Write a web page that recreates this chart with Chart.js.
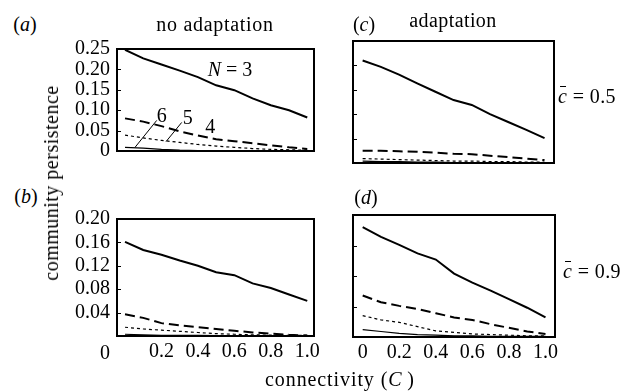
<!DOCTYPE html>
<html>
<head>
<meta charset="utf-8">
<script src="https://cdn.jsdelivr.net/npm/chart.js@4.4.1/dist/chart.umd.min.js"></script>
<style>
  body { margin: 0; background: #fff; }
  #fig { position: relative; width: 636px; height: 392px; overflow: hidden; font-family: "Liberation Serif", "Times New Roman", "DejaVu Serif", serif; color: #000; }
  #fig canvas { position: absolute; }
  .lbl { position: absolute; font-size: 20px; line-height: 1; white-space: nowrap; transform: translate(-50%, -50%); }
  .cbar { font-style: italic; position: relative; }
  .cbar::before { content: ""; position: absolute; left: 2px; width: 6px; top: 1px; border-top: 1px solid #000; }
</style>
</head>
<body>
<div id="fig">
  <canvas id="chartA" width="290" height="140" style="left:40px;top:30px"></canvas>
  <canvas id="chartB" width="290" height="192" style="left:40px;top:200px"></canvas>
  <canvas id="chartC" width="250" height="140" style="left:330px;top:30px"></canvas>
  <canvas id="chartD" width="250" height="192" style="left:330px;top:200px"></canvas>

  <div class="lbl" style="left:25px;top:24px">(<i>a</i>)</div>
  <div class="lbl" style="left:215px;top:24px;letter-spacing:0.7px">no adaptation</div>
  <div class="lbl" style="left:364px;top:24px">(<i>c</i>)</div>
  <div class="lbl" style="left:453px;top:20px;letter-spacing:0.4px">adaptation</div>
  <div class="lbl" style="left:587px;top:96px;letter-spacing:0.4px"><span class="cbar">c</span> = 0.5</div>
  <div class="lbl" style="left:26px;top:196px">(<i>b</i>)</div>
  <div class="lbl" style="left:366px;top:197px">(<i>d</i>)</div>
  <div class="lbl" style="left:592px;top:271px;letter-spacing:0.4px"><span class="cbar">c</span> = 0.9</div>
  <div class="lbl" style="left:105px;top:352px">0</div>
  <div class="lbl" style="left:51px;top:183px;letter-spacing:0.5px;transform:translate(-50%,-50%) rotate(-90deg)">community persistence</div>
  <div class="lbl" style="left:340px;top:379px;letter-spacing:0.9px">connectivity (<i>C</i>&thinsp;)</div>
</div>

<script>
// connectivity values (x) shared by all panels
const connectivity = [0, 0.1, 0.2, 0.3, 0.4, 0.5, 0.6, 0.7, 0.8, 0.9, 1.0];
const seriesNames = ['N = 3', 'N = 4', 'N = 5', 'N = 6'];

// (a) no adaptation, c = 0.5
const noAdapt05N3 = [0.248, 0.227, 0.212, 0.197, 0.181, 0.161, 0.149, 0.129, 0.112, 0.100, 0.082];
const noAdapt05N4 = [0.080, 0.072, 0.061, 0.048, 0.038, 0.029, 0.024, 0.019, 0.014, 0.009, 0.005];
const noAdapt05N5 = [0.039, 0.032, 0.026, 0.021, 0.016, 0.012, 0.009, 0.006, 0.004, 0.003, 0.002];
const noAdapt05N6 = [0.009, 0.007, 0.004, 0.002, 0.001, 0.001, 0.001, 0, 0, 0, 0];

// (c) adaptation, c = 0.5
const adapt05N3 = [0.210, 0.197, 0.181, 0.163, 0.146, 0.129, 0.119, 0.100, 0.084, 0.068, 0.051];
const adapt05N4 = [0.025, 0.025, 0.024, 0.023, 0.021, 0.019, 0.018, 0.015, 0.012, 0.009, 0.006];
const adapt05N5 = [0.009, 0.008, 0.007, 0.006, 0.005, 0.004, 0.004, 0.003, 0.003, 0.002, 0.002];
const adapt05N6 = [0.004, 0.003, 0.003, 0.002, 0.002, 0.001, 0.001, 0.001, 0.001, 0.001, 0.001];

// (b) no adaptation, c = 0.9
const noAdapt09N3 = [0.161, 0.147, 0.139, 0.129, 0.120, 0.109, 0.104, 0.090, 0.082, 0.071, 0.060];
const noAdapt09N4 = [0.037, 0.031, 0.022, 0.018, 0.015, 0.012, 0.009, 0.006, 0.004, 0.002, 0.001];
const noAdapt09N5 = [0.015, 0.012, 0.010, 0.008, 0.006, 0.004, 0.003, 0.002, 0.0015, 0.001, 0.001];
const noAdapt09N6 = [0.003, 0.002, 0.001, 0.001, 0.001, 0.0005, 0, 0, 0, 0, 0];

// (d) adaptation, c = 0.9
const adapt09N3 = [0.180, 0.164, 0.151, 0.137, 0.127, 0.104, 0.089, 0.076, 0.062, 0.048, 0.032];
const adapt09N4 = [0.068, 0.057, 0.051, 0.046, 0.039, 0.032, 0.028, 0.021, 0.015, 0.009, 0.005];
const adapt09N5 = [0.035, 0.028, 0.024, 0.017, 0.010, 0.0075, 0.005, 0.004, 0.003, 0.002, 0.002];
const adapt09N6 = [0.012, 0.009, 0.006, 0.004, 0.003, 0.002, 0.002, 0.001, 0.001, 0.001, 0.001];

// tick labels
const yLabelsTop = [0, 0.05, 0.10, 0.15, 0.20, 0.25];
const yLabelsBottom = [0.04, 0.08, 0.12, 0.16, 0.20];
const yMarksTop = [0.05, 0.10, 0.15, 0.20];
const yMarksB = [0.04, 0.08, 0.12, 0.16];
const yMarksD = [0.05, 0.10, 0.15];
const xLabelsB = [0.2, 0.4, 0.6, 0.8, 1.0];
const xLabelsD = [0, 0.2, 0.4, 0.6, 0.8, 1.0];

const FONT = "'Liberation Serif', 'Times New Roman', 'DejaVu Serif', serif";

const styles = [
    { borderWidth: 2, borderDash: [] },
    { borderWidth: 2, borderDash: [10, 5] },
    { borderWidth: 1.2, borderDash: [3, 3] },
    { borderWidth: 1.2, borderDash: [] }
];

// frame, inward ticks, labels and leader lines
const framePlugin = {
    id: 'frame',
    afterDraw(chart, args, opts) {
        const ctx = chart.ctx;
        const a = chart.chartArea;
        const x = chart.scales.x, y = chart.scales.y;
        ctx.save();
        ctx.strokeStyle = '#000';
        ctx.lineWidth = 1;
        (opts.yMarks || []).forEach(v => {
            const py = Math.round(y.getPixelForValue(v)) + 0.5;
            ctx.beginPath();
            ctx.moveTo(a.left, py);
            ctx.lineTo(a.left + 4, py);
            ctx.stroke();
        });
        (opts.leaders || []).forEach(l => {
            ctx.beginPath();
            ctx.moveTo(x.getPixelForValue(l[0]), y.getPixelForValue(l[1]));
            ctx.lineTo(x.getPixelForValue(l[2]), y.getPixelForValue(l[3]));
            ctx.stroke();
        });
        ctx.fillStyle = '#000';
        ctx.textBaseline = 'middle';
        ctx.textAlign = 'left';
        (opts.notes || []).forEach(n => {
            let w = 0;
            n.parts.forEach(p => {
                ctx.font = (p[1] ? 'italic ' : '') + '20px ' + FONT;
                w += ctx.measureText(p[0]).width;
            });
            let px = x.getPixelForValue(n.x) - w / 2;
            const py = y.getPixelForValue(n.y);
            n.parts.forEach(p => {
                ctx.font = (p[1] ? 'italic ' : '') + '20px ' + FONT;
                ctx.fillText(p[0], px, py);
                px += ctx.measureText(p[0]).width;
            });
        });
        ctx.lineWidth = 2;
        ctx.strokeRect(a.left, a.top, a.right - a.left, a.bottom - a.top);
        ctx.restore();
    }
};

function panel(id, series, o) {
    return new Chart(document.getElementById(id), {
        type: 'line',
        data: {
            datasets: series.map((s, i) => ({
                label: seriesNames[i],
                data: connectivity.map((c, k) => ({ x: c, y: s[k] })),
                borderColor: '#000',
                borderWidth: styles[i].borderWidth,
                borderDash: styles[i].borderDash,
                pointRadius: 0,
                fill: false,
                tension: 0
            }))
        },
        options: {
            responsive: false,
            animation: false,
            devicePixelRatio: 1,
            layout: { padding: o.padding },
            plugins: {
                legend: { display: false },
                tooltip: { enabled: false },
                frame: { yMarks: o.yMarks, notes: o.notes, leaders: o.leaders }
            },
            scales: {
                x: {
                    type: 'linear',
                    min: o.xMin,
                    max: o.xMax,
                    display: !!o.xLabels,
                    grid: { display: false, drawTicks: false },
                    border: { display: false },
                    afterBuildTicks: s => { if (o.xLabels) s.ticks = o.xLabels.map(v => ({ value: v })); },
                    afterFit: s => { if (o.xLabels) s.height = 40; },
                    ticks: {
                        autoSkip: false, maxRotation: 0, padding: 4, color: '#000',
                        font: { family: FONT, size: 20 },
                        callback: v => v === 0 ? '0' : v.toFixed(1)
                    }
                },
                y: {
                    type: 'linear',
                    min: 0,
                    max: o.yMax,
                    display: !!o.yLabels,
                    grid: { display: false, drawTicks: false },
                    border: { display: false },
                    afterBuildTicks: s => { s.ticks = (o.yLabels || o.yMarks).map(v => ({ value: v })); },
                    afterFit: s => { if (o.yLabels) s.width = 77; },
                    ticks: {
                        autoSkip: false, padding: 7, color: '#000',
                        font: { family: FONT, size: 20 },
                        callback: v => v === 0 ? '0' : v.toFixed(2)
                    }
                }
            }
        },
        plugins: [framePlugin]
    });
}

panel('chartA', [noAdapt05N3, noAdapt05N4, noAdapt05N5, noAdapt05N6], {
    padding: { left: 0, top: 11, right: 16, bottom: 7 },
    xMin: -0.044, xMax: 1.037, yMax: 0.25,
    yLabels: yLabelsTop, yMarks: yMarksTop,
    notes: [
        { parts: [['N', true], [' = 3', false]], x: 0.576, y: 0.196 },
        { parts: [['6', false]], x: 0.201, y: 0.085 },
        { parts: [['5', false]], x: 0.344, y: 0.080 },
        { parts: [['4', false]], x: 0.468, y: 0.058 }
    ],
    leaders: [[0.174, 0.075, 0.055, 0.009], [0.311, 0.070, 0.225, 0.023]]
});

panel('chartB', [noAdapt09N3, noAdapt09N4, noAdapt09N5, noAdapt09N6], {
    padding: { left: 0, top: 14, right: 16, bottom: 16 },
    xMin: -0.044, xMax: 1.037, yMax: 0.20,
    yLabels: yLabelsBottom, yMarks: yMarksB, xLabels: xLabelsB
});

panel('chartC', [adapt05N3, adapt05N4, adapt05N5, adapt05N6], {
    padding: { left: 23, top: 11, right: 26, bottom: 7 },
    xMin: -0.053, xMax: 1.052, yMax: 0.25,
    yMarks: yMarksTop
});

panel('chartD', [adapt09N3, adapt09N4, adapt09N5, adapt09N6], {
    padding: { left: 23, top: 15, right: 25, bottom: 15 },
    xMin: -0.053, xMax: 1.052, yMax: 0.20,
    yMarks: yMarksD, xLabels: xLabelsD
});
</script>
</body>
</html>
